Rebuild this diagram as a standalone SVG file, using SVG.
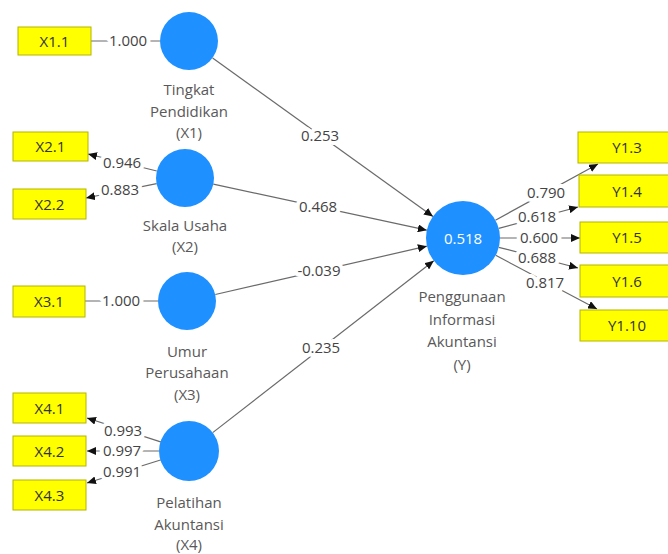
<svg xmlns="http://www.w3.org/2000/svg" width="668" height="554" viewBox="0 0 668 554">
<style>
.box{fill:#ffff00;stroke:#b4b400;stroke-width:1}
.bt{font-family:"Open Sans","Noto Sans",sans-serif;font-size:15px;fill:#333;text-anchor:middle}
.lv{fill:#1e90ff}
.lt{font-family:"Open Sans","Noto Sans",sans-serif;font-size:15px;fill:#595959;text-anchor:middle}
.ln{stroke:#6a6a6a;stroke-width:1.2;fill:none}
.lb{font-family:"Open Sans","Noto Sans",sans-serif;font-size:15px;fill:#444;text-anchor:middle;stroke:#fff;stroke-width:8;stroke-linejoin:round;paint-order:stroke}
</style>
<defs>
<marker id="ah" markerUnits="userSpaceOnUse" markerWidth="9" markerHeight="8" refX="9" refY="4" orient="auto">
<path d="M0,0 L9,4 L0,8 z" fill="#111"/>
</marker>
</defs>
<rect width="668" height="554" fill="#fff"/>
<g id="connectors">
<line class="ln" x1="91" y1="41" x2="160" y2="41"/>
<text class="lb" x="128" y="46">1.000</text>
<line class="ln" x1="156.8" y1="171" x2="88" y2="154" marker-end="url(#ah)"/>
<text class="lb" x="122" y="168">0.946</text>
<line class="ln" x1="156.6" y1="183.7" x2="86" y2="198" marker-end="url(#ah)"/>
<text class="lb" x="120" y="195">0.883</text>
<line class="ln" x1="85" y1="301" x2="158" y2="301"/>
<text class="lb" x="121" y="306">1.000</text>
<line class="ln" x1="161.4" y1="442.1" x2="87" y2="418" marker-end="url(#ah)"/>
<text class="lb" x="123" y="436">0.993</text>
<line class="ln" x1="159" y1="451" x2="87" y2="451" marker-end="url(#ah)"/>
<text class="lb" x="122" y="456">0.997</text>
<line class="ln" x1="161.3" y1="459.7" x2="87" y2="483" marker-end="url(#ah)"/>
<text class="lb" x="122" y="477">0.991</text>
<line class="ln" x1="212.6" y1="58" x2="433" y2="216.4" marker-end="url(#ah)"/>
<text class="lb" x="320" y="141">0.253</text>
<line class="ln" x1="213.3" y1="184.1" x2="426.8" y2="230.2" marker-end="url(#ah)"/>
<text class="lb" x="318" y="212">0.468</text>
<line class="ln" x1="215.3" y1="294.5" x2="426.9" y2="246.2" marker-end="url(#ah)"/>
<text class="lb" x="319" y="276">-0.039</text>
<line class="ln" x1="212.7" y1="432.6" x2="433.8" y2="260.7" marker-end="url(#ah)"/>
<text class="lb" x="321" y="353">0.235</text>
<line class="ln" x1="495.4" y1="220.2" x2="598" y2="164" marker-end="url(#ah)"/>
<text class="lb" x="546" y="198">0.790</text>
<line class="ln" x1="498.7" y1="228.3" x2="578" y2="207" marker-end="url(#ah)"/>
<text class="lb" x="537" y="222">0.618</text>
<line class="ln" x1="500" y1="238" x2="580" y2="238" marker-end="url(#ah)"/>
<text class="lb" x="539" y="243">0.600</text>
<line class="ln" x1="498.8" y1="247.3" x2="578" y2="268" marker-end="url(#ah)"/>
<text class="lb" x="537" y="263">0.688</text>
<line class="ln" x1="495.7" y1="255.3" x2="597" y2="309" marker-end="url(#ah)"/>
<text class="lb" x="545" y="288">0.817</text>
</g>
<g id="X1.1"><rect class="box" x="18" y="27" width="73" height="28"/><text class="bt" x="54.5" y="46.5">X1.1</text></g>
<g id="X2.1"><rect class="box" x="13" y="132" width="75" height="29"/><text class="bt" x="50.5" y="152">X2.1</text></g>
<g id="X2.2"><rect class="box" x="13" y="189" width="73" height="30"/><text class="bt" x="49.5" y="209.5">X2.2</text></g>
<g id="X3.1"><rect class="box" x="13" y="286" width="72" height="31"/><text class="bt" x="49" y="307">X3.1</text></g>
<g id="X4.1"><rect class="box" x="13" y="393" width="73" height="30"/><text class="bt" x="49.5" y="413.5">X4.1</text></g>
<g id="X4.2"><rect class="box" x="13" y="436" width="73" height="30"/><text class="bt" x="49.5" y="456.5">X4.2</text></g>
<g id="X4.3"><rect class="box" x="13" y="480" width="73" height="30"/><text class="bt" x="49.5" y="500.5">X4.3</text></g>
<g id="Y1.3"><rect class="box" x="578" y="132" width="100" height="31"/><text class="bt" x="627" y="153">Y1.3</text></g>
<g id="Y1.4"><rect class="box" x="579" y="175" width="100" height="32"/><text class="bt" x="627" y="196.5">Y1.4</text></g>
<g id="Y1.5"><rect class="box" x="580" y="222" width="100" height="31"/><text class="bt" x="627" y="243">Y1.5</text></g>
<g id="Y1.6"><rect class="box" x="580" y="265" width="100" height="32"/><text class="bt" x="627" y="286.5">Y1.6</text></g>
<g id="Y1.10"><rect class="box" x="580" y="310" width="100" height="31"/><text class="bt" x="627" y="331">Y1.10</text></g>
<g id="X1"><circle class="lv" cx="189" cy="41" r="29"/>
<text class="lt" x="189" y="95">Tingkat</text><text class="lt" x="189" y="117">Pendidikan</text><text class="lt" x="189" y="138">(X1)</text></g>
<g id="X2"><circle class="lv" cx="185" cy="178" r="29"/>
<text class="lt" x="185" y="231">Skala Usaha</text><text class="lt" x="185" y="252">(X2)</text></g>
<g id="X3"><circle class="lv" cx="187" cy="301" r="29"/>
<text class="lt" x="187" y="357">Umur</text><text class="lt" x="187" y="378">Perusahaan</text><text class="lt" x="187" y="400">(X3)</text></g>
<g id="X4"><circle class="lv" cx="189" cy="451" r="30"/>
<text class="lt" x="189" y="508">Pelatihan</text><text class="lt" x="189" y="530">Akuntansi</text><text class="lt" x="189" y="550">(X4)</text></g>
<g id="Y"><circle class="lv" cx="463" cy="238" r="37"/>
<text x="463" y="243.5" font-family="Open Sans, Noto Sans, sans-serif" font-size="15" fill="#fff" text-anchor="middle">0.518</text>
<text class="lt" x="462" y="302">Penggunaan</text><text class="lt" x="462" y="325">Informasi</text><text class="lt" x="462" y="347">Akuntansi</text><text class="lt" x="462" y="370">(Y)</text></g>
</svg>
